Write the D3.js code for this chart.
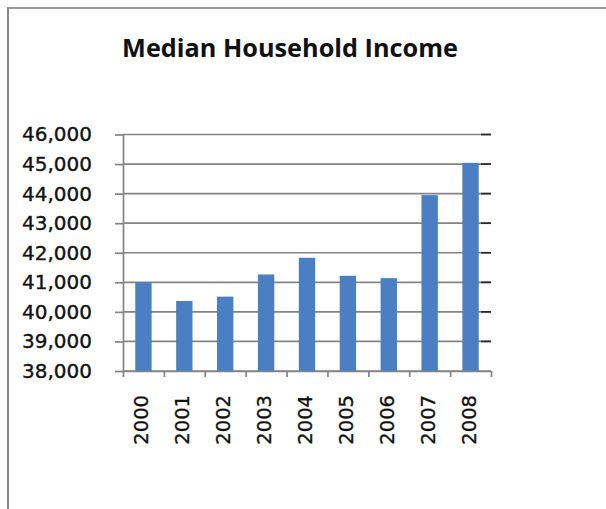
<!DOCTYPE html>
<html>
<head>
<meta charset="utf-8">
<script src="https://cdn.jsdelivr.net/npm/d3@7"></script>
<style>
  html, body { margin: 0; padding: 0; background: #fff; }
  svg { display: block; }
</style>
</head>
<body>
<script>
// Median household income by year
const years = ["2000", "2001", "2002", "2003", "2004", "2005", "2006", "2007", "2008"];
const income = [41000, 40370, 40515, 41265, 41830, 41220, 41140, 43950, 45040];
const yTicks = [38000, 39000, 40000, 41000, 42000, 43000, 44000, 45000, 46000];
const titleText = "Median Household Income";

const W = 606, H = 509;
const plotL = 123, plotR = 491, plotT = 134.5, plotB = 371;

const svg = d3.select("body").append("svg").attr("width", W).attr("height", H);

// chart frame (top and left edges)
svg.append("line").attr("x1", 8).attr("x2", W).attr("y1", 8).attr("y2", 8)
  .attr("stroke", "#9a9a9a").attr("stroke-width", 2);
svg.append("line").attr("x1", 8).attr("x2", 8).attr("y1", 7).attr("y2", H)
  .attr("stroke", "#8a8a8a").attr("stroke-width", 2);

const x = d3.scaleBand().domain(years).range([plotL, plotR]).paddingInner(0.6).paddingOuter(0.3);
const y = d3.scaleLinear().domain([38000, 46000]).range([plotB, plotT]);

// title
const title = svg.append("text").text(titleText)
  .attr("x", 290).attr("y", 56.5).attr("text-anchor", "middle")
  .attr("font-family", "'Open Sans', sans-serif").attr("font-weight", 700)
  .attr("font-size", 25).attr("fill", "#111");
const tw = title.node().getComputedTextLength();
title.attr("font-size", 25 * 336 / tw);

// horizontal gridlines
const grid = svg.append("g");
grid.selectAll("line.g").data(yTicks).join("line").attr("class", "g")
  .attr("x1", plotL).attr("x2", plotR)
  .attr("y1", d => y(d)).attr("y2", d => y(d))
  .attr("stroke", "#848484").attr("stroke-width", 1.7);
grid.selectAll("line.e").data(yTicks.slice(1)).join("line").attr("class", "e")
  .attr("x1", plotR - 10).attr("x2", plotR)
  .attr("y1", d => y(d)).attr("y2", d => y(d))
  .attr("stroke", "#2a2a2a").attr("stroke-width", 1.7);

// bars
svg.append("g").selectAll("rect").data(years).join("rect")
  .attr("x", d => x(d)).attr("width", x.bandwidth())
  .attr("y", (d, i) => y(income[i]))
  .attr("height", (d, i) => y(38000) - y(income[i]))
  .attr("fill", "#4a7fc3");

// y axis
const yAxis = svg.append("g").attr("transform", `translate(${plotL},0)`)
  .call(d3.axisLeft(y).tickValues(yTicks).tickFormat(d3.format(",")).tickSize(8).tickSizeOuter(0).tickPadding(23));
yAxis.selectAll("path, line").attr("stroke", "#848484").attr("stroke-width", 1.7);
yAxis.selectAll("text").attr("font-family", "'DejaVu Sans', sans-serif")
  .attr("font-size", 20).attr("fill", "#111")
  .attr("stroke", "#111").attr("stroke-width", 0.35);

// x axis with ticks at category boundaries
const xb = d3.scaleLinear().domain([0, years.length]).range([plotL, plotR]);
const xAxis = svg.append("g").attr("transform", `translate(0,${plotB})`)
  .call(d3.axisBottom(xb).tickValues(d3.range(years.length + 1)).tickFormat("").tickSize(6).tickSizeOuter(0));
xAxis.selectAll("path, line").attr("stroke", "#848484").attr("stroke-width", 1.7);

// rotated year labels
svg.append("g").selectAll("text").data(years).join("text")
  .text(d => d)
  .attr("transform", d => `translate(${x(d) + x.bandwidth() / 2 + 5},395) rotate(-90)`)
  .attr("text-anchor", "end")
  .attr("font-family", "'DejaVu Sans', sans-serif")
  .attr("font-size", 19.5).attr("fill", "#111")
  .attr("stroke", "#111").attr("stroke-width", 0.35);
</script>
</body>
</html>
